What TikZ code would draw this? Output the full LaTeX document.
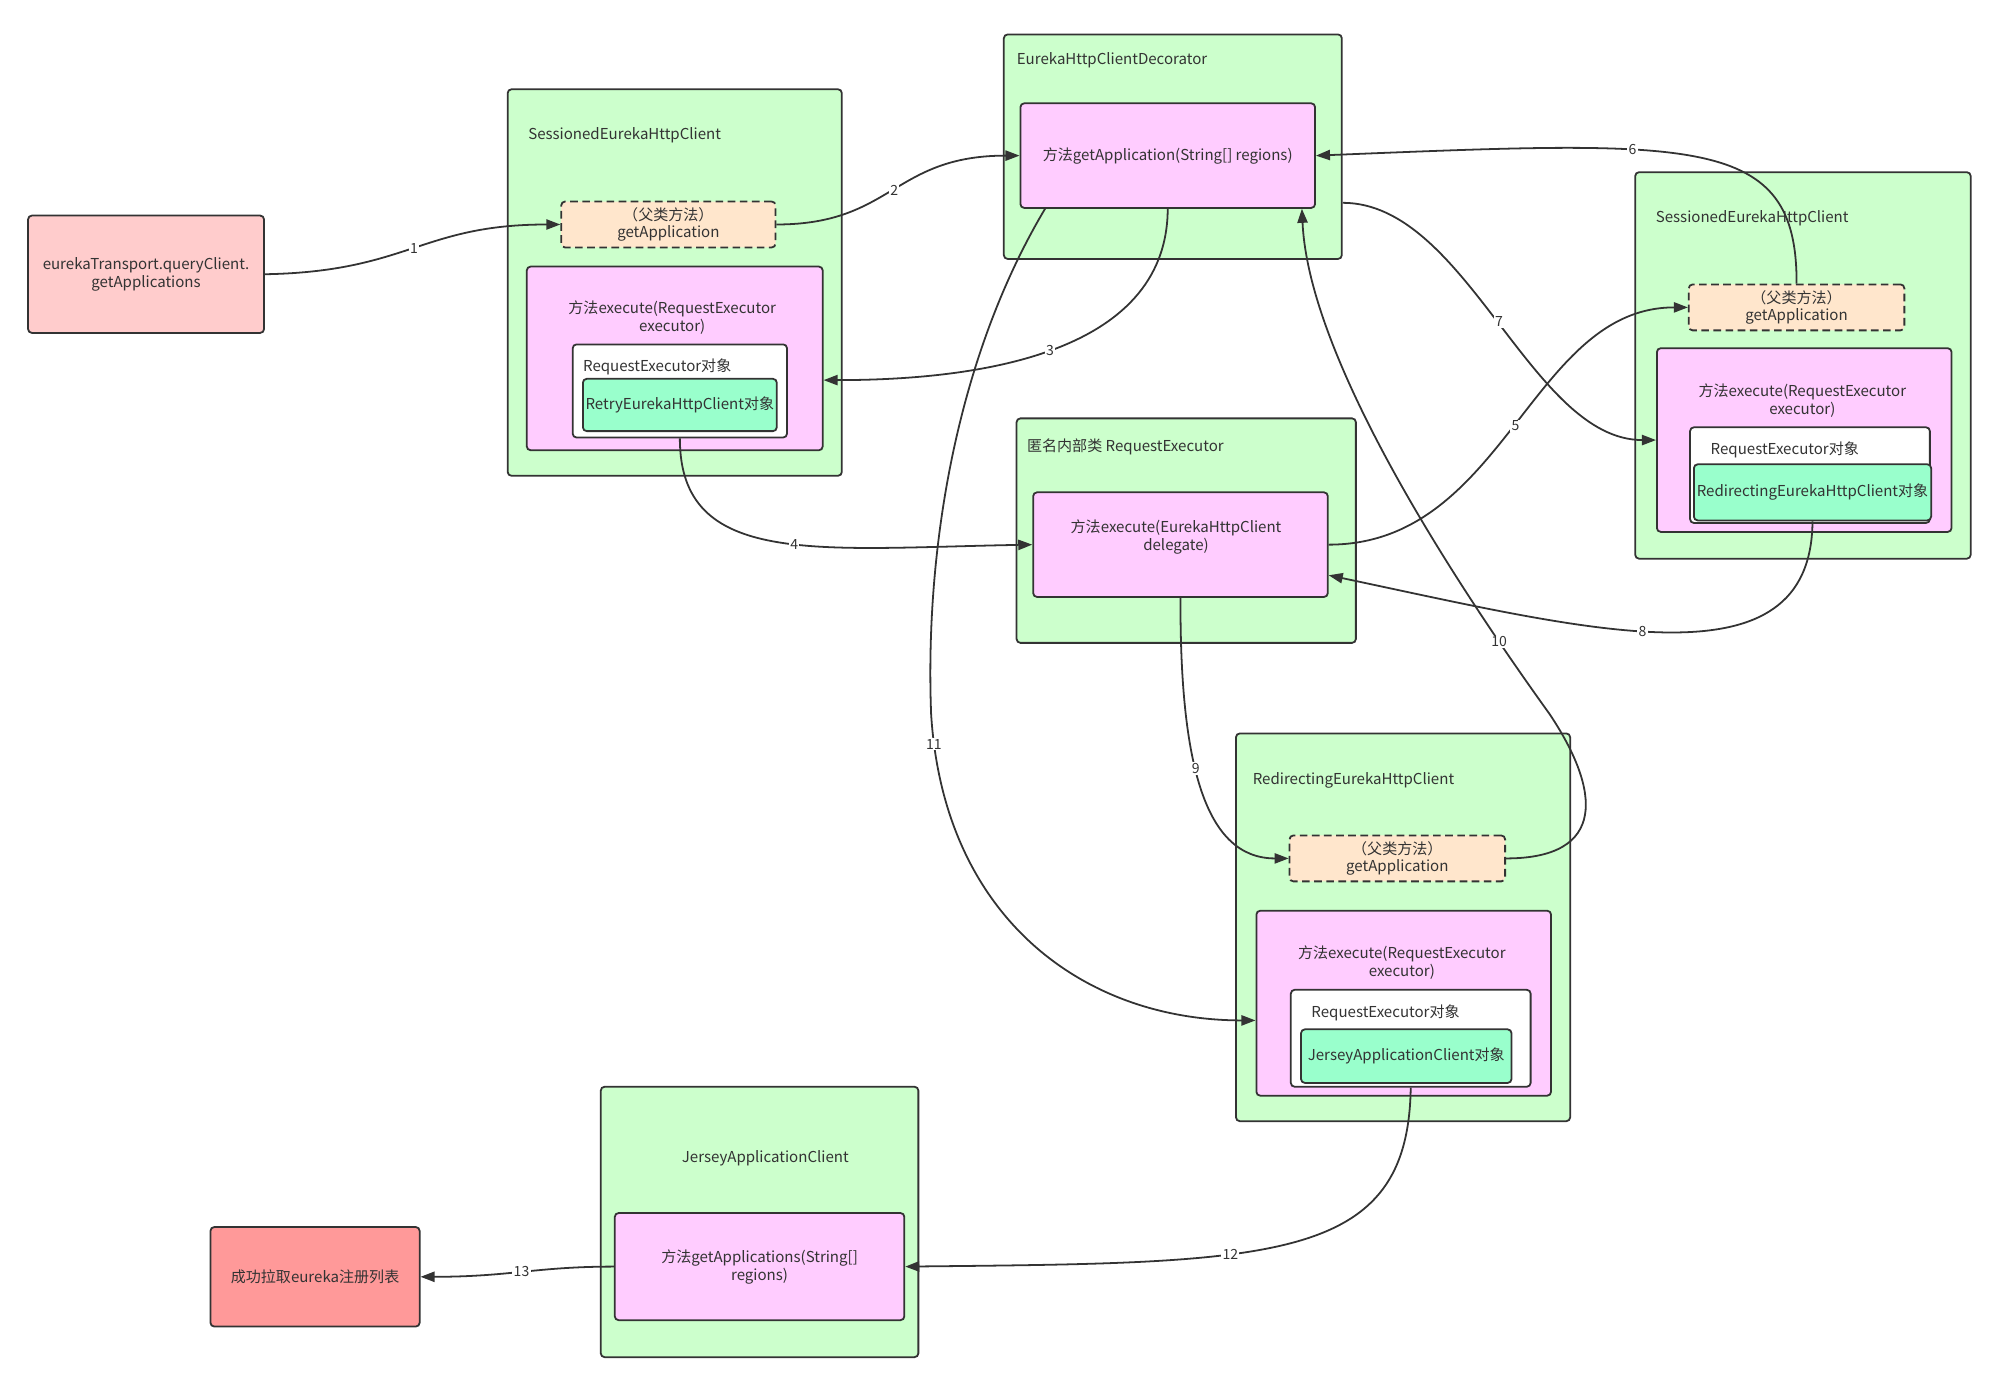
\documentclass[tikz,border=0pt]{standalone}
\usepackage{fontspec}
\setmainfont{Noto Sans CJK SC}
\usetikzlibrary{arrows.meta}
\definecolor{contc}{HTML}{CCFFCC}
\definecolor{methc}{HTML}{FFCCFF}
\definecolor{parc}{HTML}{FFE6CC}
\definecolor{objc}{HTML}{99FFCC}
\definecolor{startc}{HTML}{FFCCCC}
\definecolor{endc}{HTML}{FF9999}
\definecolor{ink}{HTML}{333333}
\tikzset{
  box/.style={draw=ink, line width=1.4pt, rounded corners=3pt, inner sep=0pt, text=ink, align=center, font=\fontsize{11.8}{14}\selectfont},
  cont/.style={box, fill=contc},
  meth/.style={box, fill=methc},
  par/.style={box, fill=parc, dash pattern=on 6pt off 3.5pt},
  wbox/.style={box, fill=white},
  obj/.style={box, fill=objc},
  txt/.style={inner sep=0pt, text=ink, align=center, font=\fontsize{11.8}{14}\selectfont},
  ttl/.style={txt, anchor=west},
  conn/.style={draw=ink, line width=1.4pt, -{Triangle[length=11pt,width=8pt]}},
  lab/.style={fill=white, inner sep=1pt, text=ink, font=\fontsize{11}{13}\selectfont}
}
\begin{document}
\begin{tikzpicture}[x=1pt,y=-1pt]
\useasboundingbox (0,0) rectangle (1568,1087);
% start / end
\node[box, fill=startc, minimum width=185pt, minimum height=92pt] (start) at (114.5,215) {eurekaTransport.queryClient.\\getApplications};
\node[box, fill=endc, minimum width=164pt, minimum height=78pt] (finish) at (247,1001) {成功拉取eureka注册列表};
% Sessioned 1
\node[cont, minimum width=262pt, minimum height=303pt] (s1c) at (529,221.5) {};
\node[ttl] (s1t) at (414,106) {SessionedEurekaHttpClient};
\node[par, minimum width=168pt, minimum height=36pt] (s1d) at (524,176) {（父类方法）\\getApplication};
\node[meth, minimum width=232pt, minimum height=144pt] (s1p) at (529,281) {};
\node[txt] (s1pt) at (527,249) {方法execute(RequestExecutor\\executor)};
\node[wbox, minimum width=168pt, minimum height=73pt] (s1w) at (533,306.5) {};
\node[ttl] (s1wt) at (457,288) {RequestExecutor对象};
\node[obj, minimum width=152pt, minimum height=41pt] (s1g) at (533,317.5) {RetryEurekaHttpClient对象};
% Decorator
\node[cont, minimum width=265pt, minimum height=176pt] (dc) at (919.5,115) {};
\node[ttl] (dct) at (797,47) {EurekaHttpClientDecorator};
\node[meth, minimum width=231pt, minimum height=82pt] (dp) at (915.5,122) {方法getApplication(String[] regions)};
% Sessioned 2
\node[cont, minimum width=263pt, minimum height=303pt] (s2c) at (1413.5,286.5) {};
\node[ttl] (s2t) at (1298,171) {SessionedEurekaHttpClient};
\node[par, minimum width=169pt, minimum height=36pt] (s2d) at (1408.5,241) {（父类方法）\\getApplication};
\node[meth, minimum width=231pt, minimum height=144pt] (s2p) at (1414.5,345) {};
\node[txt] (s2pt) at (1413,314) {方法execute(RequestExecutor\\executor)};
\node[wbox, minimum width=188pt, minimum height=75pt] (s2w) at (1419,372.5) {};
\node[ttl] (s2wt) at (1341,353) {RequestExecutor对象};
\node[obj, minimum width=186pt, minimum height=44pt] (s2g) at (1421,386) {RedirectingEurekaHttpClient对象};
% Anonymous RequestExecutor
\node[cont, minimum width=266pt, minimum height=176pt] (ac) at (930,416) {};
\node[ttl] (act) at (805,350) {匿名内部类 RequestExecutor};
\node[meth, minimum width=231pt, minimum height=82pt] (ap) at (925.5,427) {};
\node[txt] (apt) at (922,421) {方法execute(EurekaHttpClient\\delegate)};
% Redirecting
\node[cont, minimum width=262pt, minimum height=304pt] (rc) at (1100,727) {};
\node[ttl] (rct) at (982,612) {RedirectingEurekaHttpClient};
\node[par, minimum width=169pt, minimum height=36pt] (rd) at (1095.5,673) {（父类方法）\\getApplication};
\node[meth, minimum width=231pt, minimum height=145pt] (rp) at (1100.5,786.5) {};
\node[txt] (rpt) at (1099,755) {方法execute(RequestExecutor\\executor)};
\node[wbox, minimum width=188pt, minimum height=76pt] (rw) at (1106,814) {};
\node[ttl] (rwt) at (1028,794) {RequestExecutor对象};
\node[obj, minimum width=165pt, minimum height=42pt] (rg) at (1102.5,828) {JerseyApplicationClient对象};
% Jersey
\node[cont, minimum width=249pt, minimum height=212pt] (jc) at (595.5,958) {};
\node[txt] (jct) at (600,908) {JerseyApplicationClient};
\node[meth, minimum width=227pt, minimum height=84pt] (jp) at (595.5,993) {方法getApplications(String[]\\regions)};
% connectors
\draw[conn] (start.east) .. controls (320,213) and (330,176) .. node[lab, pos=0.5] (l1) {1} (s1d.west);
\draw[conn] (s1d.east) .. controls (700,176) and (700,122) .. node[lab, pos=0.5] (l2) {2} (dp.west);
\draw[conn] (dp.south) .. controls (915,280) and (760,298) .. node[lab, pos=0.5] (l3) {3} ([yshift=-17pt]s1p.east);
\draw[conn] (s1w.south) .. controls (533,445) and (640,430) .. node[lab, pos=0.55] (l4) {4} (ap.west);
\draw[conn] (ap.east) .. controls (1180,427) and (1200,241) .. node[lab, pos=0.5] (l5) {5} (s2d.west);
\draw[conn] (s2d.north) .. controls (1409,105) and (1330,110) .. node[lab, pos=0.63] (l6) {6} (dp.east);
\draw[conn] ([yshift=-44pt]dc.east) .. controls (1150,159) and (1200,345) .. node[lab, pos=0.5] (l7) {7} (s2p.west);
\draw[conn] (s2g.south) .. controls (1420,540) and (1250,495) .. node[lab, pos=0.55] (l8) {8} ([yshift=-24pt]ap.east);
\draw[conn] (ap.south) .. controls (925,600) and (945,673) .. node[lab, pos=0.42] (l9) {9} (rd.west);
\coordinate (k10) at (1215,560);
\draw[conn] (rd.east) .. controls (1260,673) and (1255,620) .. (k10) .. controls (1100,400) and (1025,260) .. node[lab, pos=0.12] (l10) {10} ([xshift=-11pt]dp.south east);
\coordinate (k11) at (730,560);
\draw[conn] ([xshift=20pt]dp.south west) .. controls (750,280) and (725,430) .. (k11) .. controls (740,720) and (850,800) .. node[lab, pos=0.05] (l11) {11} ([yshift=-13.5pt]rp.west);
\draw[conn] (rw.south) .. controls (1104,990) and (1000,990) .. node[lab, pos=0.62] (l12) {12} (jp.east);
\draw[conn] (jp.west) .. controls (420,993) and (400,1001) .. node[lab, pos=0.5] (l13) {13} (finish.east);
\end{tikzpicture}
\end{document}
